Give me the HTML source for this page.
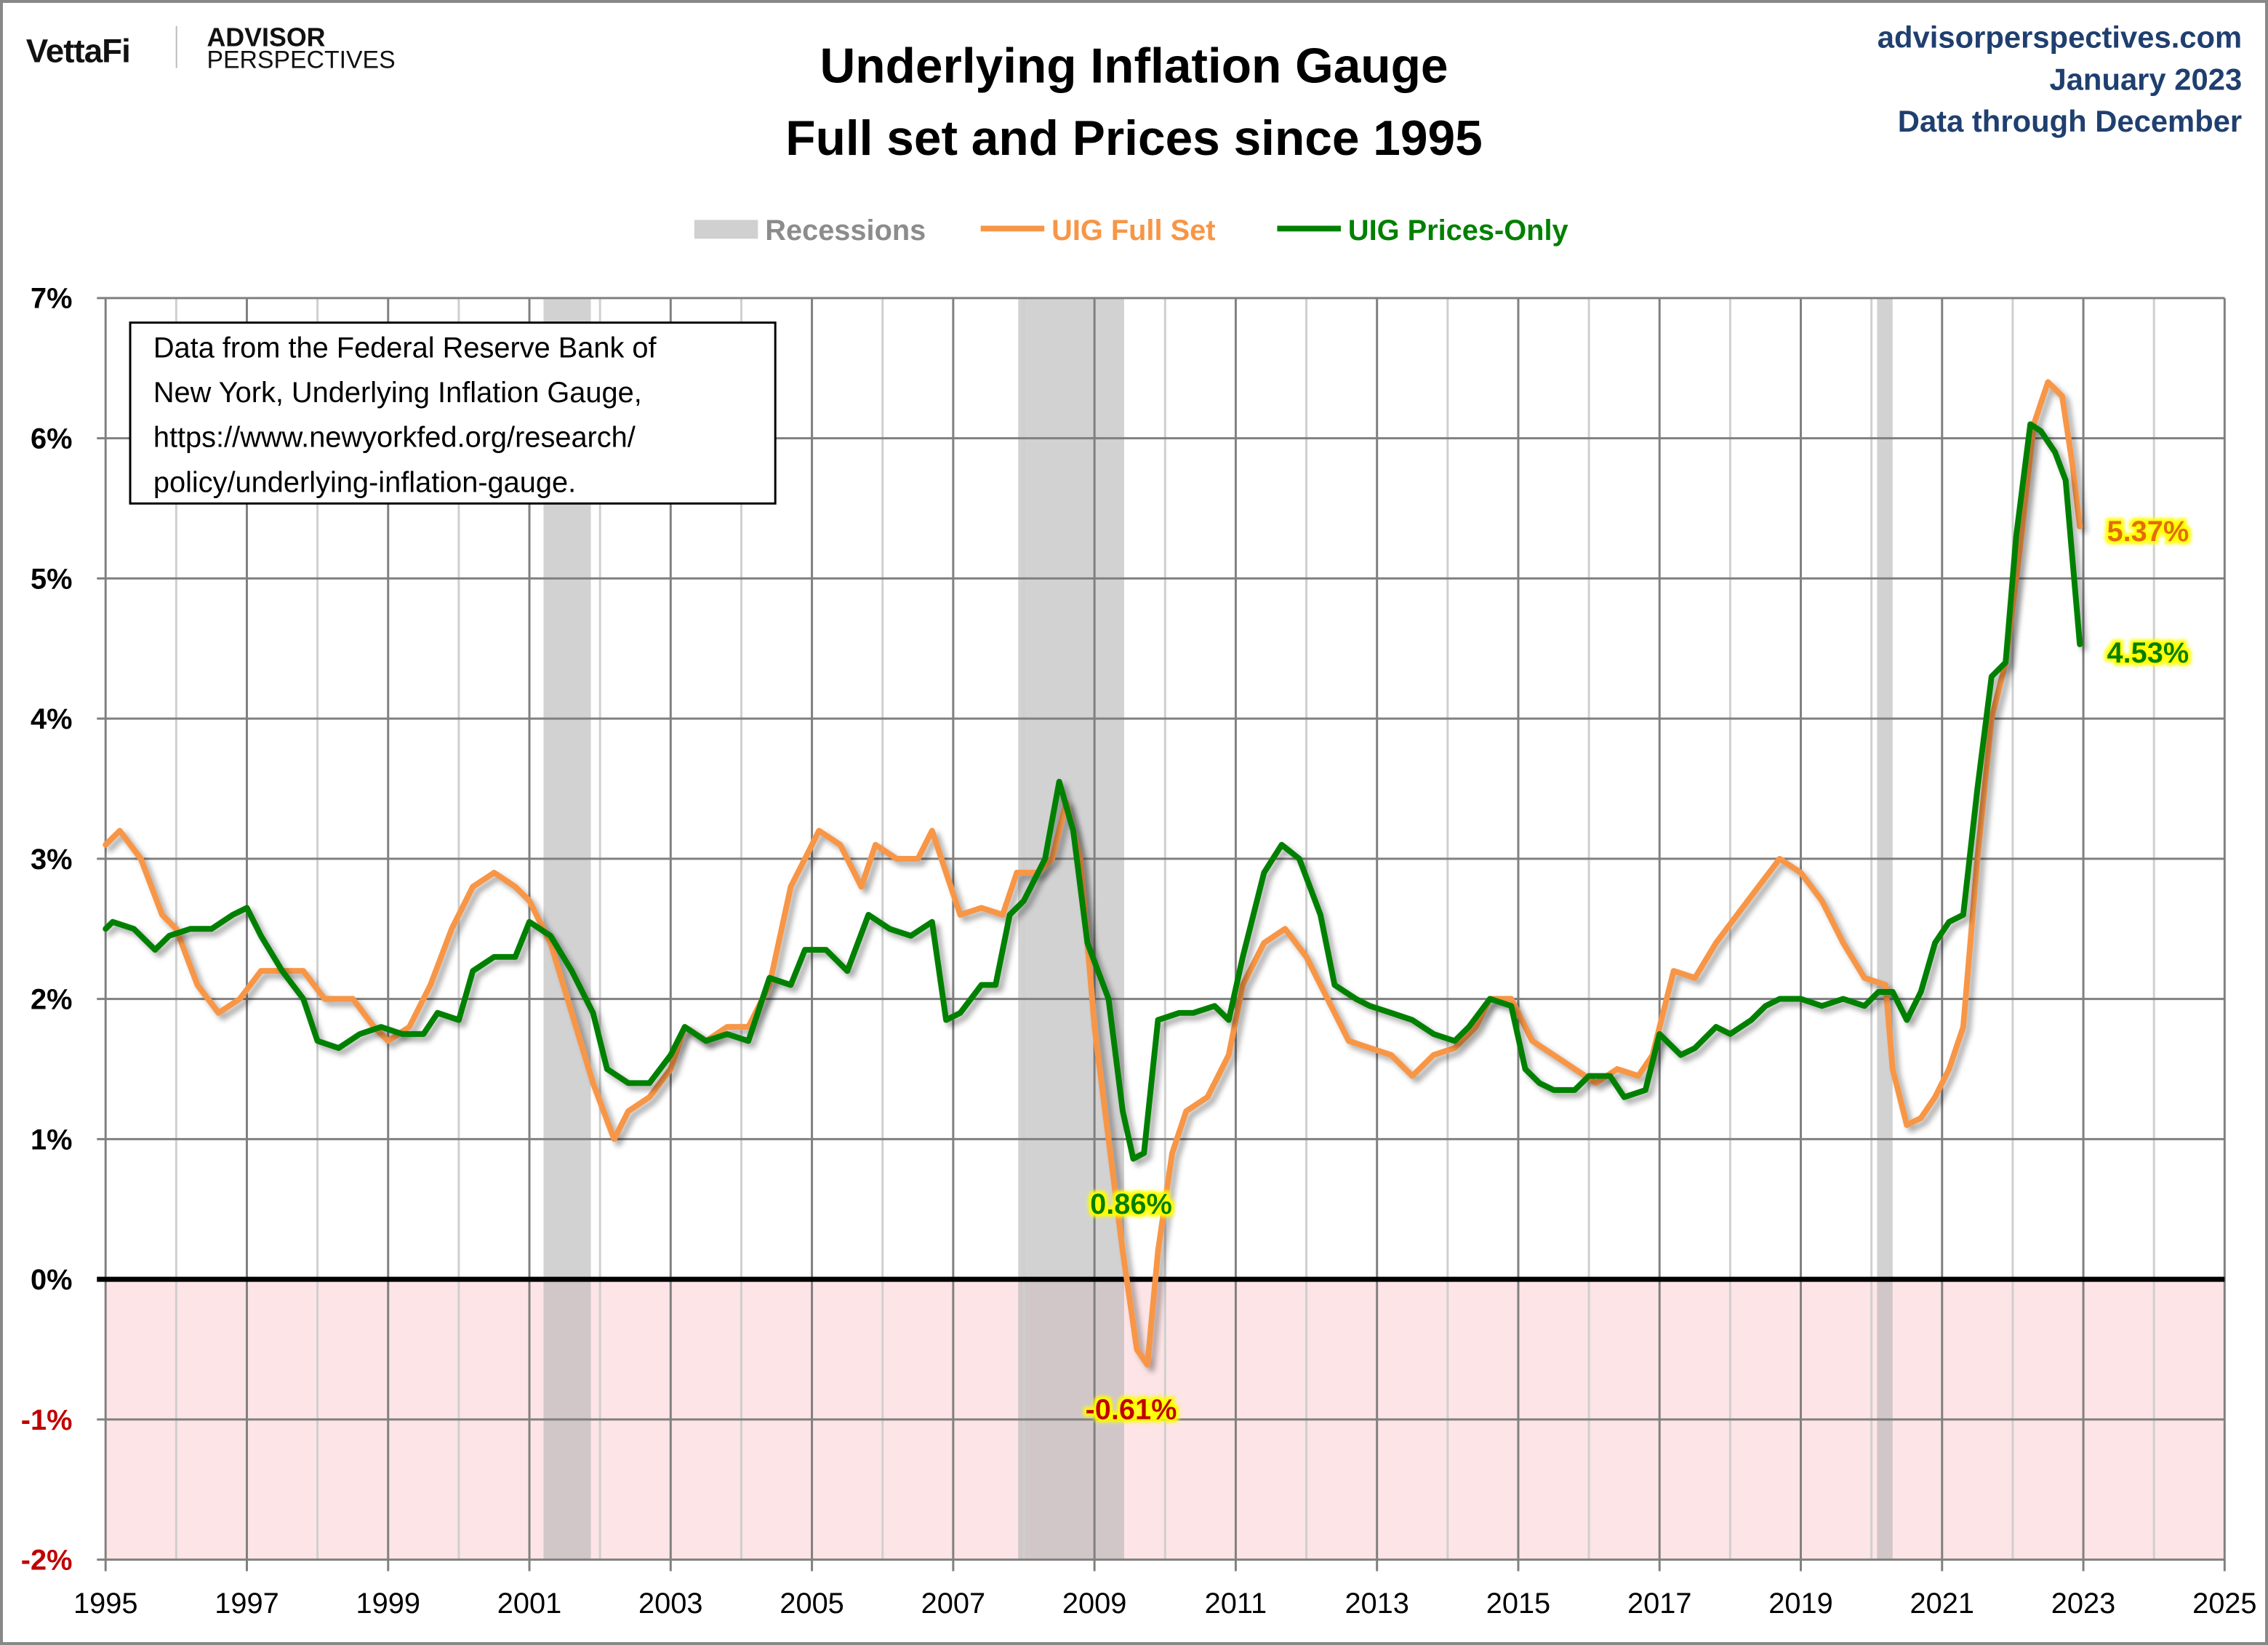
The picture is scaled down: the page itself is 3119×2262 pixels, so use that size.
<!DOCTYPE html>
<html><head><meta charset="utf-8"><style>
html,body{margin:0;padding:0;background:#fff}
svg{display:block}
text{font-family:"Liberation Sans",sans-serif}
</style></head><body>
<svg id="chart" width="3119" height="2262" viewBox="0 0 1568 1137" preserveAspectRatio="none" xmlns="http://www.w3.org/2000/svg">
<defs>
<filter id="glow" x="-20%" y="-30%" width="140%" height="160%"><feMorphology operator="dilate" radius="2" in="SourceAlpha" result="d"/><feGaussianBlur in="d" stdDeviation="1.2" result="b"/><feFlood flood-color="#ffff00"/><feComposite in2="b" operator="in" result="y"/><feMerge><feMergeNode in="y"/><feMergeNode in="SourceGraphic"/></feMerge></filter>
<filter id="shadow" x="-5%" y="-5%" width="110%" height="110%"><feGaussianBlur in="SourceAlpha" stdDeviation="2"/><feOffset dx="3" dy="3"/><feComponentTransfer><feFuncA type="linear" slope="0.35"/></feComponentTransfer><feMerge><feMergeNode/><feMergeNode in="SourceGraphic"/></feMerge></filter>
</defs>
<rect x="1" y="1" width="1566" height="1135" fill="#fff" stroke="#888" stroke-width="2"/>
<g>
<text x="18" y="43" font-size="23" font-weight="bold" fill="#111" letter-spacing="-0.5">VettaFi</text>
<line x1="122" y1="18" x2="122" y2="47" stroke="#bbb" stroke-width="1"/>
<text x="143" y="32" font-size="18" font-weight="bold" fill="#111">ADVISOR</text>
<text x="143" y="47" font-size="17" fill="#111">PERSPECTIVES</text>
</g>
<text x="784" y="57" font-size="34" font-weight="bold" text-anchor="middle" fill="#000">Underlying Inflation Gauge</text>
<text x="784" y="107" font-size="34" font-weight="bold" text-anchor="middle" fill="#000">Full set and Prices since 1995</text>
<text x="1550" y="33" font-size="21" font-weight="bold" text-anchor="end" fill="#1f3f6f">advisorperspectives.com</text>
<text x="1550" y="62" font-size="21" font-weight="bold" text-anchor="end" fill="#1f3f6f">January 2023</text>
<text x="1550" y="91" font-size="21" font-weight="bold" text-anchor="end" fill="#1f3f6f">Data through December</text>
<g>
<rect x="480" y="152" width="44" height="13" fill="#d0d0d0"/>
<text x="529" y="166" font-size="20" font-weight="bold" fill="#8c8c8c">Recessions</text>
<line x1="678" y1="158" x2="722" y2="158" stroke="#f79646" stroke-width="4"/>
<text x="727" y="166" font-size="20" font-weight="bold" fill="#f79646">UIG Full Set</text>
<line x1="883" y1="158" x2="927" y2="158" stroke="#008000" stroke-width="4"/>
<text x="932" y="166" font-size="20" font-weight="bold" fill="#008000">UIG Prices-Only</text>
</g>
<g id="plot"></g>
<g>
<rect x="90" y="223" width="446" height="125" fill="#fff" stroke="#000" stroke-width="1.5"/>
<text x="106" y="247" font-size="20" fill="#000">Data from the Federal Reserve Bank of</text>
<text x="106" y="278" font-size="20" fill="#000">New York, Underlying Inflation Gauge,</text>
<text x="106" y="309" font-size="20" fill="#000">https://www.newyorkfed.org/research/</text>
<text x="106" y="340" font-size="20" fill="#000">policy/underlying-inflation-gauge.</text>
</g>
</svg>
<script>
const recessions=[[2001.2,2001.87],[2007.92,2009.42],[2020.08,2020.3]];
const yTicks=[7,6,5,4,3,2,1,0,-1,-2];
const xTicks=[1995,1997,1999,2001,2003,2005,2007,2009,2011,2013,2015,2017,2019,2021,2023,2025];
const fullX=[1995.0,1995.2,1995.5,1995.8,1996.0,1996.3,1996.6,1996.9,1997.2,1997.5,1997.8,1998.1,1998.5,1998.8,1999.0,1999.3,1999.6,1999.9,2000.2,2000.5,2000.8,2001.0,2001.3,2001.6,2001.9,2002.2,2002.4,2002.7,2003.0,2003.2,2003.5,2003.8,2004.1,2004.4,2004.7,2004.9,2005.1,2005.4,2005.7,2005.9,2006.2,2006.5,2006.7,2006.9,2007.1,2007.4,2007.7,2007.9,2008.2,2008.4,2008.6,2008.8,2009.0,2009.2,2009.4,2009.6,2009.75,2009.9,2010.1,2010.3,2010.6,2010.9,2011.1,2011.4,2011.7,2012.0,2012.3,2012.6,2012.9,2013.2,2013.5,2013.8,2014.1,2014.4,2014.6,2014.9,2015.2,2015.5,2015.8,2016.1,2016.4,2016.7,2016.9,2017.2,2017.5,2017.8,2018.1,2018.4,2018.7,2019.0,2019.3,2019.6,2019.9,2020.2,2020.3,2020.5,2020.7,2020.9,2021.1,2021.3,2021.5,2021.7,2021.9,2022.1,2022.3,2022.5,2022.7,2022.85,2022.95];
const fullY=[3.1,3.2,3.0,2.6,2.5,2.1,1.9,2.0,2.2,2.2,2.2,2.0,2.0,1.8,1.7,1.8,2.1,2.5,2.8,2.9,2.8,2.7,2.4,1.9,1.4,1.0,1.2,1.3,1.5,1.8,1.7,1.8,1.8,2.1,2.8,3.0,3.2,3.1,2.8,3.1,3.0,3.0,3.2,2.9,2.6,2.65,2.6,2.9,2.9,3.0,3.4,3.0,1.8,1.0,0.2,-0.5,-0.61,0.2,0.9,1.2,1.3,1.6,2.1,2.4,2.5,2.3,2.0,1.7,1.65,1.6,1.45,1.6,1.65,1.8,2.0,2.0,1.7,1.6,1.5,1.4,1.5,1.45,1.6,2.2,2.15,2.4,2.6,2.8,3.0,2.9,2.7,2.4,2.15,2.1,1.5,1.1,1.15,1.3,1.5,1.8,3.0,4.0,4.4,5.2,6.1,6.4,6.3,5.8,5.37];
const priceX=[1995.0,1995.1,1995.4,1995.7,1995.9,1996.2,1996.5,1996.8,1997.0,1997.2,1997.5,1997.8,1998.0,1998.3,1998.6,1998.9,1999.2,1999.5,1999.7,2000.0,2000.2,2000.5,2000.8,2001.0,2001.3,2001.6,2001.9,2002.1,2002.4,2002.7,2003.0,2003.2,2003.5,2003.8,2004.1,2004.4,2004.7,2004.9,2005.2,2005.5,2005.8,2006.1,2006.4,2006.7,2006.9,2007.1,2007.4,2007.6,2007.8,2008.0,2008.3,2008.5,2008.7,2008.9,2009.2,2009.4,2009.55,2009.7,2009.9,2010.2,2010.4,2010.7,2010.9,2011.1,2011.4,2011.65,2011.9,2012.2,2012.4,2012.7,2012.9,2013.2,2013.5,2013.8,2014.1,2014.3,2014.6,2014.9,2015.1,2015.3,2015.5,2015.8,2016.0,2016.3,2016.5,2016.8,2017.0,2017.3,2017.5,2017.8,2018.0,2018.3,2018.5,2018.7,2019.0,2019.3,2019.6,2019.9,2020.1,2020.3,2020.5,2020.7,2020.9,2021.1,2021.3,2021.5,2021.7,2021.9,2022.05,2022.25,2022.4,2022.6,2022.75,2022.95];
const priceY=[2.5,2.55,2.5,2.35,2.45,2.5,2.5,2.6,2.65,2.45,2.2,2.0,1.7,1.65,1.75,1.8,1.75,1.75,1.9,1.85,2.2,2.3,2.3,2.55,2.45,2.2,1.9,1.5,1.4,1.4,1.6,1.8,1.7,1.75,1.7,2.15,2.1,2.35,2.35,2.2,2.6,2.5,2.45,2.55,1.85,1.9,2.1,2.1,2.6,2.7,3.0,3.55,3.2,2.4,2.0,1.2,0.86,0.9,1.85,1.9,1.9,1.95,1.85,2.3,2.9,3.1,3.0,2.6,2.1,2.0,1.95,1.9,1.85,1.75,1.7,1.8,2.0,1.95,1.5,1.4,1.35,1.35,1.45,1.45,1.3,1.35,1.75,1.6,1.65,1.8,1.75,1.85,1.95,2.0,2.0,1.95,2.0,1.95,2.05,2.05,1.85,2.05,2.4,2.55,2.6,3.5,4.3,4.4,5.3,6.1,6.05,5.9,5.7,4.53];
const NS="http://www.w3.org/2000/svg";
const X0=73,X1=1538,Y7=206,Ym2=1078;
const xs=t=>X0+(t-1995)/30*(X1-X0);
const ys=v=>Y7+(7-v)/9*(Ym2-Y7);
const plot=document.getElementById('plot');
function mk(tag,attrs,parent){const e=document.createElementNS(NS,tag);for(const k in attrs)e.setAttribute(k,attrs[k]);(parent||plot).appendChild(e);return e;}
let neg=mk('rect',{x:X0,y:ys(0),width:X1-X0,height:ys(-2)-ys(0),fill:'#fde4e6'});


recessions.forEach(r=>{const e=mk('rect',{x:xs(r[0]),y:Y7,width:xs(r[1])-xs(r[0]),height:Ym2-Y7,fill:'#b4b4b4','fill-opacity':0.6});

});
for(let yr=1995;yr<=2025;yr++){const odd=(yr%2===1);const e=mk('line',{x1:xs(yr),x2:xs(yr),y1:Y7,y2:Ym2+(odd?8:0),stroke:odd?'#808080':'#cfcfcf','stroke-width':1.5});

}
yTicks.forEach(v=>{const e=mk('line',{x1:X0-6,x2:X1,y1:ys(v),y2:ys(v),stroke:v===0?'#000':'#808080','stroke-width':v===0?3.5:1.5});


const t=mk('text',{x:50,y:ys(v)+7,'font-size':20,'font-weight':'bold','text-anchor':'end',fill:v<0?'#c00000':'#000'});t.textContent=v+'%';

});
xTicks.forEach(yr=>{const t=mk('text',{x:xs(yr),y:1115,'font-size':20,'text-anchor':'middle',fill:'#000'});t.textContent=yr;

});
function line(xa,ya,color,name){const d=xa.map((x,i)=>(i?'L':'M')+xs(x).toFixed(1)+','+ys(ya[i]).toFixed(1)).join('');const p=mk('path',{d:d,fill:'none',stroke:color,'stroke-width':4,'stroke-linejoin':'round','stroke-linecap':'round',filter:'url(#shadow)'});

}
line(fullX,fullY,'#f79646','uig-full-set-line');
line(priceX,priceY,'#008000','uig-prices-only-line');
function label(x,y,txt,color,name){const t=mk('text',{x:x,y:y,'font-size':20,'font-weight':'bold',fill:color,filter:'url(#glow)','text-anchor':'middle'});t.textContent=txt;

}
label(1485,374,fullY[fullY.length-1].toFixed(2)+'%','#e36c09','full-set-last-label');
label(1485,458,priceY[priceY.length-1].toFixed(2)+'%','#008000','prices-only-last-label');
label(782,839,'0.86%','#008000','prices-only-min-label');
label(782,981,'-0.61%','#c00000','full-set-min-label');
</script>
</body></html>
